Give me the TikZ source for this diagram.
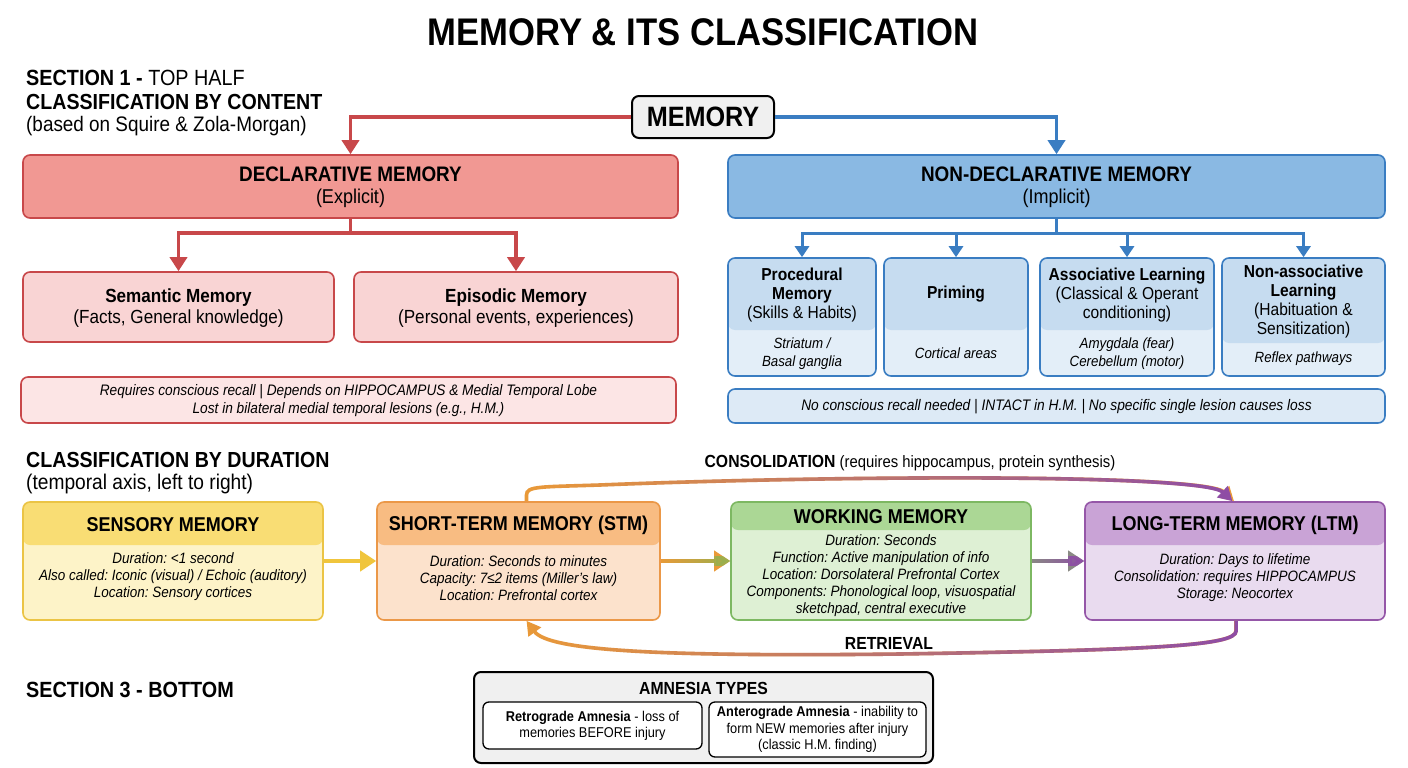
\documentclass[tikz,border=0pt]{standalone}
\usepackage{fontspec}
\setmainfont{Liberation Sans}[FakeStretch=0.9]
\usetikzlibrary{arrows.meta,calc,fadings}
\definecolor{redD}{HTML}{C8484A}
\definecolor{redF}{HTML}{F19893}
\definecolor{redS}{HTML}{F9D4D4}
\definecolor{redN}{HTML}{FCE5E5}
\definecolor{bluD}{HTML}{3A7DC2}
\definecolor{bluF}{HTML}{8AB9E3}
\definecolor{bluH}{HTML}{C6DCF0}
\definecolor{bluB}{HTML}{E3EEF8}
\definecolor{bluN}{HTML}{DDEAF6}
\definecolor{yelD}{HTML}{EBC445}
\definecolor{yelH}{HTML}{F9DD74}
\definecolor{yelB}{HTML}{FDF3C8}
\definecolor{yelA}{HTML}{F0C53C}
\definecolor{orD}{HTML}{EB9848}
\definecolor{orH}{HTML}{F8BC82}
\definecolor{orB}{HTML}{FCE2CC}
\definecolor{orA}{HTML}{EA9A38}
\definecolor{grD}{HTML}{7DB862}
\definecolor{grH}{HTML}{ABD795}
\definecolor{grB}{HTML}{DEF0D4}
\definecolor{grA}{HTML}{98B04E}
\definecolor{puD}{HTML}{9557A8}
\definecolor{puH}{HTML}{C9A3D6}
\definecolor{puB}{HTML}{E9DBEF}
\definecolor{puA}{HTML}{8E4DA6}
\definecolor{olA}{HTML}{A9A444}
\definecolor{gyA}{HTML}{8A8A84}
\definecolor{memF}{HTML}{F0F0F0}
\tikzfading[name=fadeR, left color=transparent!100, right color=transparent!0]
\tikzfading[name=fadeR2, left color=transparent!100, middle color=transparent!75, right color=transparent!0]
\tikzfading[name=fadeM, left color=transparent!100, middle color=transparent!0, right color=transparent!100]
\tikzset{
  box/.style={draw, rounded corners=7pt, line width=1.6pt, inner sep=0pt},
  hdr/.style 2 args={path picture={\fill[#1] (path picture bounding box.north west) rectangle ([yshift=-#2]path picture bounding box.north east);}},
  txt/.style={inner sep=0pt, align=center},
  fb/.style 2 args={font=\fontsize{#1}{#2}\selectfont\bfseries},
  fr/.style 2 args={font=\fontsize{#1}{#2}\selectfont},
  fi/.style 2 args={font=\fontsize{#1}{#2}\selectfont\itshape},
  bigarrow/.style={line width=3.6pt, -{Triangle[length=14pt,width=17pt]}},
  smallarrow/.style={line width=3pt, -{Triangle[length=11pt,width=14pt]}},
  flowarrow/.style={line width=4.5pt, -{Triangle[length=16pt,width=20pt]}},
  looparrow/.style={line width=3.6pt, -{Triangle[length=14pt,width=15pt]}},
}
\begin{document}
\frenchspacing
\begin{tikzpicture}[x=1pt,y=-1pt]
\useasboundingbox[fill=white] (0,0) rectangle (1408,768);

% ---------- headings ----------
\node[txt, fb={38.5}{42}] (title) at (703,32) {MEMORY \& ITS CLASSIFICATION};
\node[txt, anchor=west, fr={22}{26}] (sec1) at (26,78) {\textbf{SECTION 1 -} TOP HALF};
\node[txt, anchor=west, fb={21.8}{26}] (sec1b) at (26,102) {CLASSIFICATION BY CONTENT};
\node[txt, anchor=west, fr={21}{25}] (sec1c) at (26,126) {(based on Squire \& Zola-Morgan)};

% ---------- MEMORY root ----------
\node[box, draw=black, fill=memF, line width=2pt, minimum width=142pt, minimum height=42pt] (mem) at (703,117) {};
\node[txt, fb={28}{32}] (memT) at (703,117) {MEMORY};

% ---------- declarative ----------
\node[box, draw=redD, fill=redF, minimum width=655pt, minimum height=63pt] (decl) at (350.5,186.5) {};
\node[txt, fb={21}{24}] (declT) at (350.5,174) {DECLARATIVE MEMORY};
\node[txt, fr={20}{22}] (declS) at (350.5,198) {(Explicit)};

\node[box, draw=redD, fill=redS, minimum width=311pt, minimum height=70pt] (sem) at (178.5,307) {};
\node[txt, fb={19}{22}] (semT) at (178.5,298) {Semantic Memory};
\node[txt, fr={19}{22}] (semS) at (178.5,319) {(Facts, General knowledge)};
\node[box, draw=redD, fill=redS, minimum width=324pt, minimum height=70pt] (epi) at (516,307) {};
\node[txt, fb={19}{22}] (epiT) at (516,298) {Episodic Memory};
\node[txt, fr={19}{22}] (epiS) at (516,319) {(Personal events, experiences)};

\node[box, draw=redD, fill=redN, minimum width=655pt, minimum height=46pt] (dnote) at (348.5,400) {};
\node[txt, fi={15.2}{18}] (dnoteT) at (348.5,401) {Requires conscious recall | Depends on HIPPOCAMPUS \& Medial Temporal Lobe\\Lost in bilateral medial temporal lesions (e.g., H.M.)};

% ---------- non-declarative ----------
\node[box, draw=bluD, fill=bluF, minimum width=657pt, minimum height=63pt] (ndecl) at (1056.5,186.5) {};
\node[txt, fb={21}{24}] (ndeclT) at (1056.5,174) {NON-DECLARATIVE MEMORY};
\node[txt, fr={20}{22}] (ndeclS) at (1056.5,198) {(Implicit)};

\node[box, draw=bluD, fill=bluB, hdr={bluH}{72pt}, minimum width=148pt, minimum height=118pt] (proc) at (802,317) {};
\node[txt, fr={17.3}{19}] (procT) at (802,295) {\textbf{Procedural}\\\textbf{Memory}\\(Skills \& Habits)};
\node[txt, fi={14.8}{18}] (procL) at (802,354) {Striatum /\\Basal ganglia};

\node[box, draw=bluD, fill=bluB, hdr={bluH}{72pt}, minimum width=144pt, minimum height=118pt] (prim) at (956,317) {};
\node[txt, fb={17.3}{19}] (primT) at (956,294) {Priming};
\node[txt, fi={14.8}{18}] (primL) at (956,353) {Cortical areas};

\node[box, draw=bluD, fill=bluB, hdr={bluH}{72pt}, minimum width=174pt, minimum height=118pt] (assoc) at (1127,317) {};
\node[txt, fr={17.3}{19}] (assocT) at (1127,295) {\textbf{Associative Learning}\\(Classical \& Operant\\conditioning)};
\node[txt, fi={14.8}{18}] (assocL) at (1127,354) {Amygdala (fear)\\Cerebellum (motor)};

\node[box, draw=bluD, fill=bluB, hdr={bluH}{85pt}, minimum width=163pt, minimum height=118pt] (nassoc) at (1303.5,317) {};
\node[txt, fr={17.3}{19}] (nassocT) at (1303.5,301.5) {\textbf{Non-associative}\\\textbf{Learning}\\(Habituation \&\\Sensitization)};
\node[txt, fi={14.8}{18}] (nassocL) at (1303.5,359) {Reflex pathways};

\node[box, draw=bluD, fill=bluN, minimum width=657pt, minimum height=34pt] (nnote) at (1056.5,406) {};
\node[txt, fi={15.3}{18}] (nnoteT) at (1056.5,406.5) {No conscious recall needed | INTACT in H.M. | No specific single lesion causes loss};

% ---------- top connectors ----------
\draw[bigarrow, redD] (mem.west) -| (decl.north);
\draw[bigarrow, bluD] (mem.east) -| (ndecl.north);
\coordinate (dj) at ([yshift=-14pt]decl.south);
\draw[line width=3.6pt, redD] (decl.south) -- (dj);
\draw[bigarrow, redD] (dj) -| (sem.north);
\draw[bigarrow, redD] (dj) -| (epi.north);
\coordinate (nj) at ([yshift=-15pt]ndecl.south);
\draw[line width=3pt, bluD] (ndecl.south) -- (nj);
\draw[smallarrow, bluD] (nj) -| (proc.north);
\draw[smallarrow, bluD] (nj) -| (prim.north);
\draw[smallarrow, bluD] (nj) -| (assoc.north);
\draw[smallarrow, bluD] (nj) -| (nassoc.north);

% ---------- duration section ----------
\node[txt, anchor=west, fb={21.8}{26}] (sec2) at (26,460) {CLASSIFICATION BY DURATION};
\node[txt, anchor=west, fr={21.3}{25}] (sec2b) at (26,484) {(temporal axis, left to right)};

\node[box, draw=yelD, fill=yelB, hdr={yelH}{43pt}, minimum width=300pt, minimum height=118pt] (sens) at (173,561) {};
\node[txt, fb={20}{22}] (sensT) at (173,525) {SENSORY MEMORY};
\node[txt, fi={15}{17}] (sensB) at (173,577) {Duration: <1 second\\Also called: Iconic (visual) / Echoic (auditory)\\Location: Sensory cortices};

\node[box, draw=orD, fill=orB, hdr={orH}{43pt}, minimum width=283pt, minimum height=118pt] (stm) at (518.5,561) {};
\node[txt, fb={20}{22}] (stmT) at (518.5,525) {SHORT-TERM MEMORY (STM)};
\node[txt, fi={15}{17}] (stmB) at (518.5,578) {Duration: Seconds to minutes\\Capacity: 7≤2 items (Miller's law)\\Location: Prefrontal cortex};

\node[box, draw=grD, fill=grB, hdr={grH}{28pt}, minimum width=300pt, minimum height=118pt] (wm) at (881,561) {};
\node[txt, fb={20}{22}] (wmT) at (881,517) {WORKING MEMORY};
\node[txt, fi={15}{17}] (wmB) at (881,576) {Duration: Seconds\\Function: Active manipulation of info\\Location: Dorsolateral Prefrontal Cortex\\Components: Phonological loop, visuospatial\\sketchpad, central executive};

\node[box, draw=puD, fill=puB, hdr={puH}{43pt}, minimum width=300pt, minimum height=118pt] (ltm) at (1235,561) {};
\node[txt, fb={20}{22}] (ltmT) at (1235,525) {LONG-TERM MEMORY (LTM)};
\node[txt, fi={15}{17}] (ltmB) at (1235,578) {Duration: Days to lifetime\\Consolidation: requires HIPPOCAMPUS\\Storage: Neocortex};

% straight flow arrows
\draw[flowarrow, yelA] (sens.east) -- (stm.west);
\draw[flowarrow, orA] (stm.east) -- (wm.west);
\draw[flowarrow, grA, path fading=fadeR] (stm.east) -- (wm.west);
\draw[flowarrow, gyA] (wm.east) -- (ltm.west);
\draw[flowarrow, puA, path fading=fadeR] (wm.east) -- (ltm.west);

% consolidation loop
\coordinate (cs) at ([xshift=8pt]stm.north);
\coordinate (ce) at ([xshift=-1pt]ltm.north);
\def\conspath{(cs) -- (526.5,495) .. controls (526.5,486) and (540,487) .. (600,485) .. controls (850,475) and (1205,474) .. (ce)}
\draw[looparrow, orA] \conspath;
\draw[looparrow, olA, path fading=fadeM] \conspath;
\draw[looparrow, puA, path fading=fadeR2] \conspath;
\node[txt, fr={16.5}{18}] (consT) at (910,463) {\textbf{\fontsize{17.5}{18}\selectfont CONSOLIDATION} (requires hippocampus, protein synthesis)};

% retrieval loop
\coordinate (rs) at ([xshift=1pt]ltm.south);
\coordinate (re) at ([xshift=8pt]stm.south);
\def\retrpath{(rs) -- (1236,631) .. controls (1236,646) and (1150,650) .. (900,654) .. controls (650,657) and (548,650) .. (re)}
\draw[looparrow, orA] \retrpath;
\draw[looparrow, olA, path fading=fadeM] \retrpath;
\draw[looparrow, puA, path fading=fadeR2] \retrpath;
\node[txt, fb={17.5}{20}] (retrT) at (889,643) {RETRIEVAL};

% ---------- amnesia ----------
\node[txt, anchor=west, fb={22}{26}] (sec3) at (26,690) {SECTION 3 - BOTTOM};
\node[box, draw=black, fill=memF, line width=2pt, minimum width=459pt, minimum height=91pt] (amn) at (703.5,717.5) {};
\node[txt, fb={17.5}{20}] (amnT) at (703.5,688) {AMNESIA TYPES};
\node[box, draw=black, fill=white, line width=1.3pt, rounded corners=6pt, minimum width=219pt, minimum height=47pt] (retro) at (592.5,725.5) {};
\node[txt, fr={14.2}{16}] (retroT) at (592.5,726) {\textbf{Retrograde Amnesia} - loss of\\memories BEFORE injury};
\node[box, draw=black, fill=white, line width=1.3pt, rounded corners=6pt, minimum width=217pt, minimum height=55pt] (antero) at (817.5,729.5) {};
\node[txt, fr={14.2}{16.5}] (anteroT) at (817.5,729.5) {\textbf{Anterograde Amnesia} - inability to\\form NEW memories after injury\\(classic H.M. finding)};
\end{tikzpicture}
\end{document}
